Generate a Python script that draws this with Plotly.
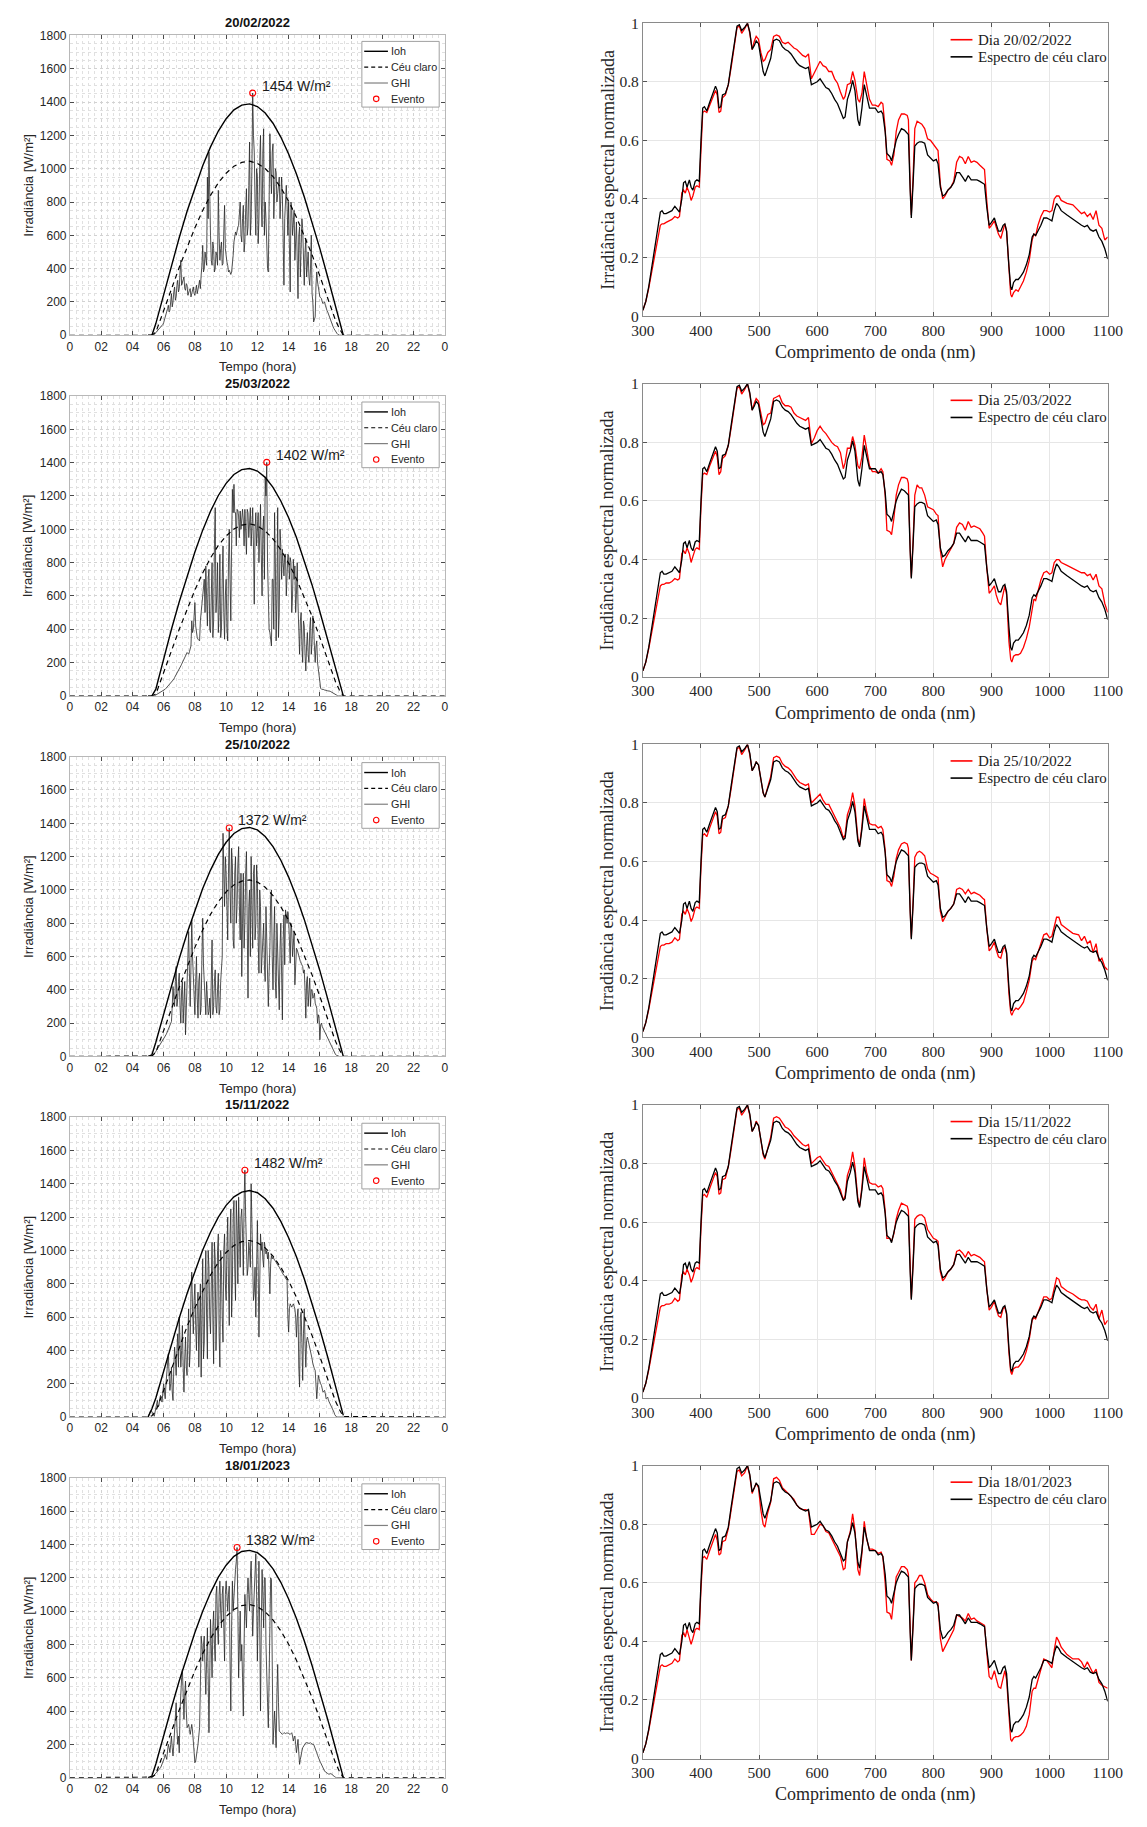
import numpy as np
import plotly.graph_objects as go

# ---------------- data ----------------
DATES = ["20/02/2022", "25/03/2022", "25/10/2022", "15/11/2022", "18/01/2023"]

HOUR_TICKS = [0, 2, 4, 6, 8, 10, 12, 14, 16, 18, 20, 22, 24]
HOUR_LABELS = ["0", "02", "04", "06", "08", "10", "12", "14", "16", "18", "20", "22", "0"]

# extraterrestrial horizontal irradiance (Ioh)
T_IOH = [5.0, 5.25, 5.5, 6.0, 6.5, 7.0, 7.5, 8.0, 8.5, 9.0, 9.5, 10.0, 10.5, 11.0,
         11.5, 12.0, 12.5, 13.0, 13.5, 14.0, 14.5, 15.0, 15.5, 16.0, 16.5, 17.0, 17.25, 17.5]
IOH_1 = [0, 0, 70, 247, 420, 587, 744, 887, 1018, 1131, 1226, 1300, 1353, 1382,
         1389, 1373, 1334, 1273, 1190, 1088, 968, 831, 681, 520, 350, 177, 88, 0]
IOH_2 = [0, 0, 40, 225, 400, 565, 722, 864, 995, 1108, 1203, 1276, 1329, 1358,
         1365, 1350, 1312, 1252, 1170, 1069, 951, 815, 666, 505, 337, 162, 72, 0]
IOH_3 = [0, 10, 85, 258, 425, 588, 740, 880, 1008, 1119, 1213, 1286, 1339, 1368,
         1375, 1360, 1321, 1260, 1178, 1077, 958, 823, 674, 515, 346, 175, 87, 0]
IOH_4 = [0, 50, 115, 280, 440, 595, 742, 878, 1003, 1110, 1200, 1271, 1322, 1351,
         1360, 1347, 1311, 1254, 1175, 1077, 962, 830, 684, 527, 361, 190, 100, 10]
IOH_5 = [0, 10, 82, 255, 420, 582, 733, 872, 1000, 1110, 1204, 1276, 1329, 1358,
         1365, 1351, 1313, 1254, 1173, 1073, 956, 822, 674, 515, 349, 177, 88, 0]

# clear-sky model (Céu claro)
T_CS = [0, 5.0, 5.25, 5.5, 6.0, 6.5, 7.0, 7.5, 8.0, 8.5, 9.0, 9.5, 10.0, 10.5, 11.0,
        11.5, 12.0, 12.5, 13.0, 13.5, 14.0, 14.5, 15.0, 15.5, 16.0, 16.5, 17.0, 17.25, 17.5, 24]
CS_1 = [0, 0, 0, 18, 143, 277, 408, 532, 645, 749, 840, 915, 973, 1015, 1038,
        1045, 1032, 1001, 952, 886, 805, 709, 601, 483, 355, 222, 90, 40, 0, 0]
CS_2 = [0, 0, 0, 10, 135, 270, 400, 523, 635, 738, 828, 903, 960, 1002, 1025,
        1033, 1021, 990, 942, 877, 797, 702, 595, 478, 350, 218, 85, 35, 0, 0]
CS_3 = [0, 0, 3, 25, 150, 285, 416, 541, 655, 760, 853, 929, 988, 1030, 1053,
        1060, 1047, 1016, 966, 899, 817, 720, 610, 490, 360, 225, 91, 40, 0, 0]
CS_4 = [0, 0, 8, 35, 160, 292, 420, 544, 657, 760, 853, 929, 988, 1030, 1053,
        1060, 1047, 1016, 966, 899, 817, 720, 610, 490, 362, 228, 95, 45, 3, 0]
CS_5 = [0, 0, 3, 22, 145, 278, 407, 530, 642, 745, 836, 910, 968, 1010, 1033,
        1040, 1027, 996, 947, 882, 801, 705, 598, 481, 353, 221, 88, 38, 0, 0]

# measured GHI: "A" samples at 05:00, 05:06, ... ; "B" samples 3 minutes later
GHI_T0_A = 5.0
GHI_T0_B = 5.05
GHI_DT = 0.1
GHI_1A = [0, 0, 0, 0, 5, 15, 25, 35, 45, 60,
          75, 100, 130, 180, 150, 250, 200, 290, 230, 330,
          280, 450, 320, 350, 270, 300, 260, 280, 250, 290,
          240, 300, 270, 330, 360, 540, 400, 460, 950, 1100,
          600, 420, 520, 400, 480, 870, 450, 560, 430, 780,
          470, 420, 390, 365, 420, 560, 620, 640, 660, 800,
          560, 780, 560, 880, 650, 1160, 700, 1454, 1100, 600,
          950, 700, 1200, 650, 1240, 800, 500, 380, 1210, 850,
          1150, 920, 980, 850, 950, 880, 840, 300, 850, 780,
          800, 260, 750, 700, 450, 680, 220, 650, 500, 640,
          300, 580, 450, 350, 400, 250, 80, 110, 380, 280,
          230, 220, 190, 200, 160, 140, 110, 80, 60, 40,
          20, 10, 0, 0, 0, 0, 0]
GHI_1B = [0, 0, 0, 0, 10, 20, 30, 40, 50, 65,
          90, 115, 160, 140, 220, 170, 260, 210, 300, 260,
          380, 300, 340, 280, 310, 240, 270, 230, 270, 250,
          270, 250, 300, 280, 420, 380, 500, 420, 700, 700,
          450, 560, 380, 500, 420, 600, 520, 420, 620, 520,
          440, 380, 370, 380, 480, 600, 600, 650, 720, 600,
          700, 500, 750, 600, 900, 600, 1000, 1200, 800, 1000,
          550, 1050, 800, 1100, 600, 700, 400, 900, 1000, 1100,
          700, 1000, 800, 900, 700, 950, 500, 700, 900, 600,
          500, 800, 600, 750, 600, 450, 600, 350, 700, 450,
          500, 350, 500, 300, 600, 200, 90, 300, 320, 250,
          225, 200, 195, 180, 150, 125, 95, 70, 50, 30,
          15, 5, 0, 0, 0, 0]
GHI_2A = [0, 0, 0, 0, 0, 5, 10, 15, 20, 25,
          30, 40, 50, 60, 70, 80, 95, 110, 125, 140,
          160, 180, 200, 230, 250, 260, 250, 280, 450, 400,
          560, 380, 340, 330, 520, 600, 700, 780, 420, 760,
          380, 800, 450, 1130, 600, 380, 850, 400, 900, 340,
          700, 330, 1000, 450, 1240, 1270, 1100, 1120, 1080, 1110,
          1100, 1050, 1120, 850, 1100, 1080, 900, 1130, 550, 1100,
          1050, 800, 1150, 600, 1080, 1310, 1402, 420, 380, 300,
          700, 1100, 330, 1130, 500, 900, 880, 720, 850, 760,
          840, 830, 500, 820, 780, 610, 550, 250, 500, 200,
          420, 150, 380, 200, 470, 320, 430, 200, 330, 150,
          50, 40, 40, 35, 35, 30, 30, 25, 20, 10,
          5, 0, 0, 0, 0, 0, 0]
GHI_2B = [0, 0, 0, 0, 0, 8, 12, 18, 22, 28,
          35, 45, 55, 65, 75, 88, 100, 118, 132, 150,
          170, 190, 215, 240, 255, 255, 265, 300, 380, 500,
          420, 350, 335, 450, 560, 650, 500, 600, 700, 400,
          600, 350, 900, 500, 800, 500, 350, 700, 500, 600,
          400, 800, 700, 900, 1100, 1100, 900, 1110, 950, 1000,
          1120, 900, 1000, 1120, 950, 1130, 1100, 900, 1000, 900,
          1100, 1000, 850, 1000, 700, 1200, 800, 400, 350, 700,
          400, 800, 600, 350, 1000, 700, 800, 850, 600, 850,
          700, 800, 600, 700, 500, 800, 350, 450, 300, 450,
          250, 300, 250, 400, 250, 480, 300, 300, 200, 100,
          45, 40, 38, 35, 32, 30, 28, 22, 15, 8,
          3, 0, 0, 0, 0, 0]
GHI_3A = [0, 0, 0, 5, 15, 30, 45, 60, 75, 90,
          105, 120, 140, 160, 180, 210, 420, 300, 540, 350,
          500, 200, 450, 300, 130, 480, 750, 300, 820, 450,
          250, 600, 230, 500, 300, 830, 450, 250, 330, 270,
          230, 700, 300, 520, 260, 500, 280, 550, 1340, 900,
          1100, 700, 1372, 800, 1150, 650, 1200, 900, 1260, 700,
          480, 1100, 800, 1230, 350, 1000, 1200, 650, 1150, 800,
          1050, 500, 900, 600, 800, 450, 700, 300, 650, 1000,
          400, 900, 350, 600, 280, 800, 220, 850, 880, 800,
          820, 560, 760, 720, 430, 650, 620, 580, 560, 540,
          520, 230, 480, 440, 300, 400, 360, 320, 290, 250,
          100, 200, 170, 150, 130, 110, 85, 65, 45, 25,
          12, 5, 0, 0, 0, 0, 0]
GHI_3B = [0, 0, 2, 10, 22, 38, 52, 68, 82, 98,
          112, 130, 150, 170, 195, 300, 350, 450, 300, 450,
          300, 400, 200, 450, 300, 600, 500, 550, 600, 300,
          450, 350, 450, 250, 600, 550, 300, 450, 250, 350,
          500, 250, 450, 300, 400, 250, 450, 600, 1100, 1200,
          900, 1100, 1000, 1250, 700, 1100, 800, 1150, 900, 1100,
          800, 650, 1100, 800, 900, 600, 900, 1100, 700, 1150,
          700, 1000, 500, 700, 550, 900, 400, 500, 950, 600,
          700, 450, 800, 300, 650, 500, 700, 550, 850, 870,
          700, 800, 600, 750, 550, 640, 600, 570, 550, 500,
          400, 450, 300, 470, 400, 350, 380, 300, 200, 230,
          190, 180, 160, 140, 120, 95, 75, 55, 35, 18,
          8, 2, 0, 0, 0, 0]
GHI_4A = [0, 25, 40, 15, 5, 60, 100, 70, 130, 90,
          200, 110, 260, 380, 160, 300, 100, 420, 250, 500,
          600, 300, 550, 150, 480, 250, 650, 400, 870, 500,
          800, 400, 750, 500, 240, 950, 450, 1000, 350, 900,
          500, 1050, 320, 950, 600, 1100, 300, 900, 450, 1100,
          700, 1200, 550, 1250, 800, 1300, 700, 1150, 1320, 900,
          1250, 850, 1482, 950, 900, 1000, 1400, 850, 750, 600,
          1180, 480, 1100, 1050, 900, 1000, 1000, 990, 740, 970,
          960, 945, 930, 915, 900, 885, 865, 850, 835, 820,
          510, 680, 660, 680, 650, 480, 650, 180, 630, 220,
          650, 300, 480, 440, 400, 350, 300, 280, 110, 250,
          210, 190, 150, 160, 110, 120, 90, 80, 50, 30,
          5, 0, 0, 0, 0, 0, 0]
GHI_4B = [15, 35, 30, 8, 30, 80, 60, 110, 100, 150,
          150, 200, 300, 250, 200, 150, 300, 350, 400, 300,
          450, 400, 300, 350, 300, 500, 300, 750, 650, 700,
          550, 650, 300, 800, 600, 350, 800, 600, 1000, 600,
          800, 600, 1050, 400, 1000, 500, 1000, 600, 1000, 800,
          1000, 800, 1100, 600, 1200, 900, 1300, 800, 1100, 1200,
          1100, 1300, 1200, 850, 1050, 900, 1100, 700, 900, 950,
          900, 800, 1000, 950, 1050, 980, 950, 800, 920, 950,
          950, 940, 920, 910, 890, 875, 860, 845, 830, 600,
          650, 670, 670, 665, 600, 600, 300, 600, 450, 500,
          450, 460, 460, 420, 380, 320, 290, 200, 180, 230,
          200, 170, 155, 140, 115, 100, 85, 65, 40, 15,
          2, 0, 0, 0, 0, 0]
GHI_5A = [0, 0, 0, 5, 15, 25, 35, 45, 60, 80,
          100, 140, 110, 200, 150, 250, 130, 300, 450, 200,
          150, 550, 650, 350, 580, 300, 320, 260, 320, 200,
          90, 130, 200, 300, 850, 700, 850, 500, 900, 270,
          950, 600, 1000, 700, 1150, 800, 1180, 900, 1150, 700,
          1180, 1000, 1150, 400, 1180, 1100, 1250, 1382, 600, 1000,
          800, 370, 1100, 900, 1200, 1000, 1300, 850, 1100, 1345,
          700, 1300, 400, 1250, 900, 1200, 500, 300, 1100, 1190,
          200, 400, 180, 680, 280, 270, 260, 270, 265, 270,
          265, 260, 270, 220, 250, 150, 230, 80, 150, 180,
          200, 210, 210, 205, 210, 200, 200, 180, 150, 120,
          100, 80, 50, 40, 30, 25, 20, 25, 20, 10,
          0, 0, 0, 0, 0, 0, 0]
GHI_5B = [0, 0, 2, 10, 20, 30, 40, 52, 70, 90,
          120, 125, 160, 180, 200, 180, 200, 350, 300, 250,
          400, 600, 500, 500, 400, 310, 290, 290, 280, 120,
          100, 160, 250, 550, 800, 800, 650, 700, 600, 600,
          800, 900, 800, 1100, 900, 1100, 1000, 1100, 900, 1100,
          1100, 1100, 700, 900, 1000, 1200, 1300, 1000, 800, 700,
          600, 800, 1000, 1100, 1100, 1200, 1100, 1000, 1250, 1100,
          1000, 900, 900, 1100, 1200, 800, 450, 700, 1200, 700,
          300, 300, 500, 450, 275, 265, 265, 268, 268, 268,
          262, 265, 250, 240, 200, 190, 150, 110, 160, 190,
          205, 210, 208, 208, 205, 200, 190, 165, 135, 110,
          90, 65, 45, 35, 28, 22, 22, 22, 15, 5,
          0, 0, 0, 0, 0, 0]

EVENT_T = [11.7, 12.6, 10.2, 11.2, 10.7]
EVENT_V = [1454, 1402, 1372, 1482, 1382]

# normalized spectra
WL = [300, 305, 310, 315, 320, 325, 328, 330, 333, 336,
      340, 345, 350, 355, 360, 363, 367, 370, 373, 376,
      380, 383, 386, 390, 393, 397, 400, 403, 406, 410,
      415, 420, 425, 428, 431, 434, 437, 442, 447, 452,
      457, 462, 466, 470, 475, 480, 484, 488, 492, 495,
      499, 503, 507, 510, 515, 520, 525, 530, 535, 540,
      545, 550, 555, 560, 565, 570, 575, 580, 585, 590,
      595, 600, 605, 610, 615, 620, 625, 630, 635, 640,
      645, 648, 652, 657, 661, 665, 670, 673, 677, 681,
      685, 690, 695, 700, 705, 710, 713, 717, 720, 725,
      728, 732, 736, 740, 745, 750, 755, 757, 760, 762,
      765, 768, 772, 776, 780, 785, 790, 795, 800, 805,
      808, 812, 816, 820, 825, 830, 835, 840, 845, 850,
      855, 860, 865, 870, 875, 880, 885, 888, 892, 896,
      900, 905, 908, 912, 916, 920, 923, 926, 930, 933,
      935, 938, 942, 946, 950, 955, 960, 965, 970, 973,
      976, 980, 985, 990, 995, 1000, 1004, 1008, 1012, 1016,
      1020, 1030, 1040, 1050, 1055, 1060, 1065, 1070, 1075, 1080,
      1085, 1090, 1095, 1100]

SPEC_CLEAR = [0.02, 0.05, 0.10, 0.16, 0.22, 0.28, 0.33, 0.355, 0.36, 0.35,
              0.35, 0.355, 0.36, 0.375, 0.36, 0.355, 0.40, 0.455, 0.46, 0.44,
              0.465, 0.44, 0.43, 0.46, 0.465, 0.46, 0.60, 0.71, 0.715, 0.70,
              0.73, 0.76, 0.785, 0.77, 0.71, 0.715, 0.755, 0.76, 0.79, 0.86,
              0.93, 0.99, 0.995, 0.975, 0.985, 1.0, 0.97, 0.91, 0.925, 0.94,
              0.93, 0.88, 0.835, 0.82, 0.85, 0.88, 0.94, 0.945, 0.94, 0.92,
              0.91, 0.905, 0.895, 0.88, 0.865, 0.855, 0.85, 0.845, 0.85, 0.79,
              0.795, 0.80, 0.81, 0.795, 0.78, 0.775, 0.76, 0.74, 0.725, 0.70,
              0.675, 0.68, 0.74, 0.77, 0.805, 0.77, 0.67, 0.65, 0.71, 0.79,
              0.75, 0.71, 0.71, 0.71, 0.695, 0.70, 0.69, 0.63, 0.555, 0.545,
              0.53, 0.56, 0.60, 0.62, 0.64, 0.635, 0.625, 0.62, 0.43, 0.335,
              0.45, 0.58, 0.59, 0.595, 0.595, 0.59, 0.55, 0.54, 0.53, 0.535,
              0.52, 0.44, 0.41, 0.415, 0.43, 0.44, 0.455, 0.49, 0.49, 0.475,
              0.46, 0.48, 0.465, 0.465, 0.465, 0.46, 0.455, 0.45, 0.37, 0.31,
              0.32, 0.335, 0.315, 0.29, 0.29, 0.31, 0.315, 0.29, 0.17, 0.10,
              0.09, 0.115, 0.125, 0.125, 0.135, 0.15, 0.175, 0.21, 0.27, 0.28,
              0.275, 0.29, 0.31, 0.335, 0.335, 0.33, 0.325, 0.36, 0.385, 0.375,
              0.36, 0.345, 0.33, 0.315, 0.31, 0.305, 0.31, 0.295, 0.29, 0.295,
              0.27, 0.255, 0.23, 0.195]

SPEC_1 = [0.02, 0.05, 0.095, 0.15, 0.21, 0.26, 0.29, 0.31, 0.315, 0.315,
          0.32, 0.325, 0.33, 0.34, 0.335, 0.34, 0.42, 0.43, 0.42, 0.44,
          0.42, 0.395, 0.41, 0.44, 0.445, 0.44, 0.58, 0.695, 0.70, 0.695,
          0.72, 0.745, 0.77, 0.755, 0.695, 0.70, 0.745, 0.755, 0.79, 0.85,
          0.925, 0.985, 0.99, 0.965, 0.98, 1.0, 0.965, 0.91, 0.94, 0.955,
          0.945, 0.90, 0.87, 0.875, 0.90, 0.91, 0.955, 0.96, 0.955, 0.935,
          0.93, 0.935, 0.925, 0.915, 0.91, 0.90, 0.89, 0.885, 0.895, 0.81,
          0.83, 0.855, 0.87, 0.855, 0.85, 0.835, 0.835, 0.81, 0.795, 0.765,
          0.74, 0.75, 0.79, 0.795, 0.835, 0.805, 0.74, 0.73, 0.76, 0.835,
          0.79, 0.74, 0.72, 0.72, 0.715, 0.73, 0.725, 0.64, 0.535, 0.53,
          0.515, 0.55, 0.63, 0.67, 0.69, 0.69, 0.685, 0.67, 0.45, 0.345,
          0.47, 0.64, 0.665, 0.66, 0.655, 0.64, 0.605, 0.60, 0.585, 0.57,
          0.565, 0.45, 0.40, 0.41, 0.43, 0.44, 0.46, 0.525, 0.545, 0.54,
          0.52, 0.545, 0.525, 0.53, 0.525, 0.515, 0.505, 0.50, 0.39, 0.30,
          0.31, 0.325, 0.305, 0.28, 0.265, 0.30, 0.315, 0.29, 0.14, 0.075,
          0.065, 0.08, 0.09, 0.085, 0.10, 0.12, 0.15, 0.19, 0.26, 0.28,
          0.275, 0.31, 0.34, 0.36, 0.36, 0.355, 0.36, 0.40, 0.41, 0.41,
          0.395, 0.385, 0.38, 0.36, 0.35, 0.355, 0.34, 0.35, 0.33, 0.36,
          0.31, 0.30, 0.26, 0.27]

SPEC_2 = [0.02, 0.05, 0.095, 0.15, 0.21, 0.26, 0.29, 0.31, 0.315, 0.315,
          0.32, 0.32, 0.325, 0.335, 0.33, 0.335, 0.42, 0.43, 0.42, 0.44,
          0.42, 0.39, 0.41, 0.435, 0.44, 0.435, 0.58, 0.69, 0.695, 0.69,
          0.72, 0.745, 0.77, 0.75, 0.69, 0.70, 0.745, 0.755, 0.79, 0.85,
          0.925, 0.985, 0.99, 0.965, 0.98, 1.0, 0.965, 0.91, 0.935, 0.95,
          0.94, 0.895, 0.86, 0.865, 0.895, 0.90, 0.95, 0.955, 0.96, 0.935,
          0.925, 0.925, 0.92, 0.90, 0.89, 0.885, 0.88, 0.875, 0.885, 0.795,
          0.815, 0.84, 0.855, 0.84, 0.83, 0.815, 0.80, 0.79, 0.785, 0.765,
          0.71, 0.73, 0.78, 0.78, 0.82, 0.79, 0.72, 0.71, 0.75, 0.825,
          0.775, 0.72, 0.70, 0.70, 0.695, 0.71, 0.70, 0.62, 0.50, 0.495,
          0.485, 0.54, 0.62, 0.655, 0.68, 0.68, 0.675, 0.66, 0.44, 0.34,
          0.46, 0.62, 0.655, 0.645, 0.645, 0.62, 0.58, 0.575, 0.57, 0.555,
          0.55, 0.43, 0.375, 0.40, 0.42, 0.435, 0.455, 0.51, 0.525, 0.52,
          0.50, 0.53, 0.51, 0.515, 0.51, 0.505, 0.49, 0.48, 0.37, 0.285,
          0.295, 0.31, 0.28, 0.255, 0.245, 0.29, 0.31, 0.28, 0.12, 0.06,
          0.05, 0.07, 0.075, 0.075, 0.08, 0.10, 0.13, 0.17, 0.24, 0.265,
          0.26, 0.29, 0.33, 0.355, 0.36, 0.35, 0.355, 0.39, 0.40, 0.40,
          0.39, 0.38, 0.37, 0.36, 0.355, 0.355, 0.345, 0.35, 0.33, 0.35,
          0.31, 0.30, 0.25, 0.22]

SPEC_3 = [0.02, 0.05, 0.095, 0.15, 0.21, 0.26, 0.29, 0.31, 0.315, 0.315,
          0.32, 0.32, 0.325, 0.34, 0.33, 0.335, 0.42, 0.43, 0.42, 0.44,
          0.42, 0.395, 0.41, 0.44, 0.445, 0.44, 0.58, 0.69, 0.695, 0.685,
          0.715, 0.745, 0.77, 0.755, 0.695, 0.70, 0.745, 0.75, 0.79, 0.85,
          0.925, 0.985, 0.99, 0.965, 0.98, 1.0, 0.965, 0.91, 0.925, 0.94,
          0.93, 0.88, 0.835, 0.82, 0.855, 0.89, 0.955, 0.96, 0.955, 0.935,
          0.925, 0.92, 0.91, 0.895, 0.88, 0.87, 0.865, 0.86, 0.865, 0.80,
          0.81, 0.82, 0.83, 0.81, 0.795, 0.795, 0.775, 0.75, 0.735, 0.715,
          0.68, 0.69, 0.76, 0.79, 0.835, 0.79, 0.68, 0.655, 0.72, 0.815,
          0.77, 0.73, 0.725, 0.725, 0.715, 0.72, 0.71, 0.64, 0.535, 0.53,
          0.515, 0.55, 0.61, 0.64, 0.66, 0.665, 0.66, 0.645, 0.44, 0.34,
          0.46, 0.615, 0.63, 0.635, 0.63, 0.62, 0.575, 0.56, 0.555, 0.55,
          0.545, 0.43, 0.395, 0.41, 0.43, 0.44, 0.455, 0.505, 0.51, 0.505,
          0.49, 0.505, 0.49, 0.495, 0.49, 0.485, 0.475, 0.47, 0.37, 0.295,
          0.305, 0.325, 0.30, 0.275, 0.27, 0.30, 0.31, 0.285, 0.15, 0.085,
          0.075, 0.09, 0.10, 0.095, 0.105, 0.12, 0.155, 0.195, 0.26, 0.27,
          0.265, 0.29, 0.32, 0.35, 0.355, 0.34, 0.345, 0.38, 0.41, 0.41,
          0.385, 0.37, 0.355, 0.35, 0.33, 0.345, 0.32, 0.33, 0.29, 0.32,
          0.26, 0.27, 0.24, 0.23]

SPEC_4 = [0.02, 0.05, 0.095, 0.15, 0.21, 0.26, 0.29, 0.31, 0.315, 0.315,
          0.32, 0.32, 0.325, 0.34, 0.33, 0.335, 0.42, 0.43, 0.42, 0.44,
          0.42, 0.395, 0.41, 0.44, 0.445, 0.44, 0.58, 0.69, 0.695, 0.685,
          0.715, 0.745, 0.77, 0.755, 0.695, 0.70, 0.745, 0.75, 0.79, 0.85,
          0.925, 0.985, 0.99, 0.965, 0.98, 1.0, 0.965, 0.91, 0.925, 0.945,
          0.93, 0.88, 0.83, 0.815, 0.855, 0.89, 0.955, 0.96, 0.955, 0.94,
          0.925, 0.92, 0.91, 0.895, 0.885, 0.875, 0.865, 0.86, 0.865, 0.80,
          0.81, 0.82, 0.825, 0.81, 0.795, 0.79, 0.77, 0.745, 0.73, 0.71,
          0.675, 0.69, 0.76, 0.79, 0.84, 0.79, 0.68, 0.655, 0.72, 0.82,
          0.77, 0.735, 0.73, 0.73, 0.72, 0.725, 0.715, 0.64, 0.545, 0.545,
          0.535, 0.56, 0.61, 0.64, 0.665, 0.66, 0.655, 0.64, 0.44, 0.34,
          0.46, 0.61, 0.62, 0.625, 0.625, 0.615, 0.575, 0.56, 0.545, 0.54,
          0.535, 0.43, 0.40, 0.41, 0.43, 0.44, 0.455, 0.50, 0.505, 0.495,
          0.48, 0.50, 0.485, 0.49, 0.485, 0.48, 0.47, 0.465, 0.37, 0.30,
          0.31, 0.33, 0.305, 0.28, 0.275, 0.305, 0.31, 0.285, 0.155, 0.09,
          0.08, 0.10, 0.105, 0.105, 0.115, 0.13, 0.16, 0.20, 0.265, 0.275,
          0.27, 0.29, 0.32, 0.345, 0.345, 0.335, 0.34, 0.38, 0.41, 0.405,
          0.38, 0.365, 0.355, 0.34, 0.335, 0.335, 0.33, 0.31, 0.30, 0.32,
          0.27, 0.30, 0.25, 0.265]

SPEC_5 = [0.02, 0.05, 0.095, 0.15, 0.21, 0.26, 0.29, 0.315, 0.32, 0.315,
          0.315, 0.32, 0.325, 0.34, 0.33, 0.335, 0.42, 0.43, 0.415, 0.44,
          0.415, 0.39, 0.41, 0.44, 0.445, 0.44, 0.58, 0.685, 0.69, 0.68,
          0.71, 0.735, 0.765, 0.745, 0.695, 0.70, 0.74, 0.745, 0.785, 0.85,
          0.92, 0.98, 0.985, 0.965, 0.975, 1.0, 0.965, 0.905, 0.925, 0.94,
          0.925, 0.85, 0.80, 0.79, 0.84, 0.875, 0.955, 0.96, 0.95, 0.925,
          0.915, 0.905, 0.895, 0.885, 0.865, 0.855, 0.85, 0.85, 0.845, 0.765,
          0.765, 0.785, 0.80, 0.795, 0.775, 0.77, 0.75, 0.73, 0.715, 0.69,
          0.645, 0.65, 0.74, 0.775, 0.835, 0.78, 0.645, 0.625, 0.70, 0.81,
          0.75, 0.715, 0.715, 0.71, 0.70, 0.705, 0.69, 0.60, 0.50, 0.495,
          0.475, 0.55, 0.62, 0.635, 0.655, 0.655, 0.645, 0.63, 0.43, 0.335,
          0.46, 0.60, 0.61, 0.625, 0.625, 0.60, 0.56, 0.545, 0.535, 0.535,
          0.53, 0.41, 0.365, 0.38, 0.40, 0.42, 0.44, 0.49, 0.485, 0.48,
          0.47, 0.495, 0.475, 0.48, 0.47, 0.465, 0.46, 0.455, 0.36, 0.28,
          0.27, 0.30, 0.275, 0.245, 0.24, 0.28, 0.30, 0.27, 0.13, 0.065,
          0.06, 0.07, 0.075, 0.075, 0.08, 0.09, 0.11, 0.15, 0.23, 0.24,
          0.24, 0.27, 0.31, 0.34, 0.335, 0.32, 0.31, 0.37, 0.415, 0.40,
          0.38, 0.355, 0.34, 0.34, 0.33, 0.31, 0.33, 0.31, 0.29, 0.305,
          0.26, 0.25, 0.245, 0.24]

IOH = [IOH_1, IOH_2, IOH_3, IOH_4, IOH_5]
CS = [CS_1, CS_2, CS_3, CS_4, CS_5]
GHI_A = [GHI_1A, GHI_2A, GHI_3A, GHI_4A, GHI_5A]
GHI_B = [GHI_1B, GHI_2B, GHI_3B, GHI_4B, GHI_5B]
SPEC = [SPEC_1, SPEC_2, SPEC_3, SPEC_4, SPEC_5]

LEFT_LEGEND = ["Ioh", "Céu claro", "GHI", "Evento"]
RIGHT_LEGEND_CLEAR = "Espectro de céu claro"

# ---------------- layout geometry (pixels) ----------------
W, H = 1147, 1827
LX0, LX1 = 59.3, 443.3
RX0, RX1 = 646.1, 1122.1
LT, LB = 26.7, 329.3
RT, RB = 14.3, 310.0
DY = 364.0

SANS = "Liberation Sans"
SERIF = "Liberation Serif"
TXT = "#262626"


def px(x):
    return x / W


def py(y):
    return 1 - y / H


def sfx(n):
    return "" if n == 1 else str(n)


fig = go.Figure()
layout = dict(
    width=W, height=H, margin=dict(l=0, r=0, t=0, b=0),
    paper_bgcolor="white", plot_bgcolor="white", showlegend=False,
    hovermode=False,
)
annotations = []
shapes = []


def hline(x0, x1, y, color, width, dash="solid"):
    shapes.append(dict(type="line", xref="paper", yref="paper",
                       x0=px(x0), x1=px(x1), y0=py(y), y1=py(y),
                       line=dict(color=color, width=width, dash=dash), layer="above"))


def label(x, y, text, family, size, color=TXT):
    annotations.append(dict(x=px(x), y=py(y), xref="paper", yref="paper", text=text,
                            showarrow=False, xanchor="left", yanchor="middle",
                            font=dict(family=family, size=size, color=color)))


for i in range(5):
    dy = DY * i
    nl, nr = 2 * i + 1, 2 * i + 2
    sl, sr = sfx(nl), sfx(nr)

    # ---------- left panel ----------
    ta = GHI_T0_A + GHI_DT * np.arange(len(GHI_A[i]))
    tb = GHI_T0_B + GHI_DT * np.arange(len(GHI_B[i]))
    t_all = np.concatenate([ta, tb])
    v_all = np.concatenate([np.asarray(GHI_A[i], float), np.asarray(GHI_B[i], float)])
    order = np.argsort(t_all, kind="stable")
    fig.add_trace(go.Scatter(x=t_all[order], y=v_all[order], mode="lines", name="GHI",
                             line=dict(color="#262626", width=0.8),
                             xaxis="x" + sl, yaxis="y" + sl))
    fig.add_trace(go.Scatter(x=T_IOH, y=IOH[i], mode="lines", name="Ioh",
                             line=dict(color="black", width=1.4),
                             xaxis="x" + sl, yaxis="y" + sl))
    fig.add_trace(go.Scatter(x=T_CS, y=CS[i], mode="lines", name="Céu claro",
                             line=dict(color="black", width=1.2, dash="5px,4px"),
                             xaxis="x" + sl, yaxis="y" + sl))
    fig.add_trace(go.Scatter(x=[EVENT_T[i]], y=[EVENT_V[i]], mode="markers", name="Evento",
                             marker=dict(symbol="circle-open", color="red", size=6,
                                         line=dict(width=1.1, color="red")),
                             xaxis="x" + sl, yaxis="y" + sl))

    layout["xaxis" + sl] = dict(
        domain=[px(LX0), px(LX1)], anchor="y" + sl, range=[0, 24],
        tickmode="array", tickvals=HOUR_TICKS, ticktext=HOUR_LABELS,
        ticks="inside", ticklen=4, tickcolor="#4a4a4a", tickwidth=1,
        showline=True, linecolor="#b8b8b8", linewidth=1, mirror="ticks",
        showgrid=True, gridcolor="#d2d2d2", griddash="dot", gridwidth=1,
        minor=dict(tickmode="linear", tick0=0, dtick=0.4, showgrid=True,
                   gridcolor="#e0e0e0", griddash="dot", gridwidth=1, ticks=""),
        tickfont=dict(family=SANS, size=12, color=TXT), zeroline=False,
    )
    layout["yaxis" + sl] = dict(
        domain=[py(LB + dy), py(LT + dy)], anchor="x" + sl, range=[0, 1800],
        tickmode="linear", tick0=0, dtick=200,
        ticks="inside", ticklen=4, tickcolor="#4a4a4a", tickwidth=1,
        showline=True, linecolor="#b8b8b8", linewidth=1, mirror="ticks",
        showgrid=True, gridcolor="#d2d2d2", griddash="dot", gridwidth=1,
        minor=dict(tickmode="linear", tick0=0, dtick=50, showgrid=True,
                   gridcolor="#e0e0e0", griddash="dot", gridwidth=1, ticks=""),
        tickfont=dict(family=SANS, size=12, color=TXT), zeroline=False,
    )

    # left legend box (drawn like the MATLAB legend)
    shapes.append(dict(type="rect", xref="paper", yref="paper",
                       x0=px(358.3), x1=px(437.5), y0=py(99 + dy), y1=py(32.7 + dy),
                       fillcolor="white", line=dict(color="#a0a0a0", width=1), layer="above"))
    rows = [42.7, 58.7, 74.7, 90.7]
    hline(360.7, 385, rows[0] + dy, "black", 1.4)
    hline(360.7, 385, rows[1] + dy, "black", 1.2, "4px,3px")
    hline(360.7, 385, rows[2] + dy, "#808080", 1.2)
    shapes.append(dict(type="circle", xref="paper", yref="paper",
                       x0=px(373.0 - 2.8), x1=px(373.0 + 2.8),
                       y0=py(rows[3] + dy + 2.8), y1=py(rows[3] + dy - 2.8),
                       line=dict(color="red", width=1.1), layer="above"))
    for r, txt in zip(rows, LEFT_LEGEND):
        label(386.5, r + dy, txt, SANS, 10.8)

    # event label
    annotations.append(dict(
        x=EVENT_T[i] + 0.45, y=EVENT_V[i] + 45, xref="x" + sl, yref="y" + sl,
        text=f"{EVENT_V[i]} W/m²", showarrow=False, xanchor="left", yanchor="middle",
        font=dict(family=SANS, size=14, color="#1a1a1a"),
    ))
    # panel title
    annotations.append(dict(
        x=px((LX0 + LX1) / 2), y=py(LT + dy), xref="paper", yref="paper",
        text=f"<b>{DATES[i]}</b>", showarrow=False, xanchor="center", yanchor="bottom",
        yshift=3, font=dict(family=SANS, size=13, color="#111111"),
    ))
    # axis titles (left)
    annotations.append(dict(
        x=px((LX0 + LX1) / 2), y=py(LB + dy + 32), xref="paper", yref="paper",
        text="Tempo (hora)", showarrow=False, xanchor="center", yanchor="middle",
        font=dict(family=SANS, size=13, color=TXT),
    ))
    annotations.append(dict(
        x=px(16.7), y=py((LT + LB) / 2 + dy), xref="paper", yref="paper",
        text="Irradiância [W/m²]", showarrow=False, xanchor="center", yanchor="middle",
        textangle=-90, font=dict(family=SANS, size=13, color=TXT),
    ))

    # ---------- right panel ----------
    fig.add_trace(go.Scatter(x=WL, y=SPEC[i], mode="lines", name=f"Dia {DATES[i]}",
                             line=dict(color="#ff0000", width=1.3),
                             xaxis="x" + sr, yaxis="y" + sr))
    fig.add_trace(go.Scatter(x=WL, y=SPEC_CLEAR, mode="lines", name=RIGHT_LEGEND_CLEAR,
                             line=dict(color="black", width=1.3),
                             xaxis="x" + sr, yaxis="y" + sr))

    layout["xaxis" + sr] = dict(
        domain=[px(RX0), px(RX1)], anchor="y" + sr, range=[300, 1100],
        tickmode="linear", tick0=300, dtick=100,
        ticks="inside", ticklen=4, tickcolor="#555555", tickwidth=1,
        showline=True, linecolor="#8a8a8a", linewidth=1, mirror="ticks",
        showgrid=True, gridcolor="#e6e6e6", gridwidth=1,
        tickfont=dict(family=SERIF, size=15.5, color=TXT), zeroline=False,
    )
    layout["yaxis" + sr] = dict(
        domain=[py(RB + dy), py(RT + dy)], anchor="x" + sr, range=[0, 1],
        tickmode="array", tickvals=[0, 0.2, 0.4, 0.6, 0.8, 1.0],
        ticktext=["0", "0.2", "0.4", "0.6", "0.8", "1"],
        ticks="inside", ticklen=4, tickcolor="#555555", tickwidth=1,
        showline=True, linecolor="#8a8a8a", linewidth=1, mirror="ticks",
        showgrid=True, gridcolor="#e6e6e6", gridwidth=1,
        tickfont=dict(family=SERIF, size=15.5, color=TXT), zeroline=False,
    )
    # right legend (no box)
    hline(961.2, 983.6, 31 + dy, "#ff0000", 1.6)
    hline(961.2, 983.6, 48.3 + dy, "black", 1.6)
    label(987.1, 31 + dy, f"Dia {DATES[i]}", SERIF, 15, "#1a1a1a")
    label(987.1, 48.3 + dy, RIGHT_LEGEND_CLEAR, SERIF, 15, "#1a1a1a")

    annotations.append(dict(
        x=px((RX0 + RX1) / 2), y=py(RB + dy + 36.7), xref="paper", yref="paper",
        text="Comprimento de onda (nm)", showarrow=False, xanchor="center", yanchor="middle",
        font=dict(family=SERIF, size=18, color=TXT),
    ))
    annotations.append(dict(
        x=px(609.5), y=py((RT + RB) / 2 + dy), xref="paper", yref="paper",
        text="Irradiância espectral normalizada", showarrow=False, xanchor="center",
        yanchor="middle", textangle=-90, font=dict(family=SERIF, size=18, color=TXT),
    ))

layout["annotations"] = annotations
layout["shapes"] = shapes
fig.update_layout(**layout)
fig.write_html("out.html",
               config={"displayModeBar": False, "staticPlot": True},
               post_script="document.body.style.margin='0px';"
                           "document.body.style.overflow='hidden';")
